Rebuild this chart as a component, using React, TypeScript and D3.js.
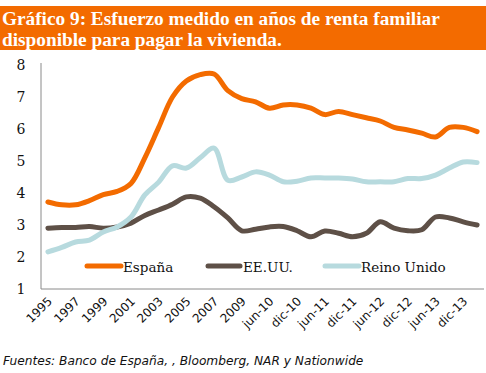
import React from "react";
import * as d3 from "d3";

const width = 486;
const height = 373;
const margin = { top: 65, right: 2, bottom: 84, left: 41 };

// periods: annual 1995-2009, then quarterly mar-10 .. mar-14
const periods = [
  "1995", "1996", "1997", "1998", "1999", "2000", "2001", "2002", "2003", "2004",
  "2005", "2006", "2007", "2008", "2009",
  "mar-10", "jun-10", "sep-10", "dic-10",
  "mar-11", "jun-11", "sep-11", "dic-11",
  "mar-12", "jun-12", "sep-12", "dic-12",
  "mar-13", "jun-13", "sep-13", "dic-13",
  "mar-14"
];

const espana = [
  3.72, 3.63, 3.63, 3.76, 3.95, 4.05, 4.3, 5.1, 6.05, 7.0,
  7.5, 7.7, 7.72, 7.2, 6.95,
  6.85, 6.65, 6.75, 6.75,
  6.65, 6.45, 6.55, 6.45,
  6.35, 6.25, 6.05, 5.97,
  5.87, 5.75, 6.05, 6.05,
  5.92
];

const eeuu = [
  2.9, 2.92, 2.92, 2.95, 2.9, 2.94, 3.06, 3.3, 3.47, 3.65,
  3.88, 3.84, 3.57, 3.22, 2.82,
  2.87, 2.94, 2.95, 2.82,
  2.63, 2.81, 2.74, 2.63,
  2.74, 3.1, 2.9, 2.82,
  2.85, 3.25, 3.22, 3.1,
  3.0
];

const reinoUnido = [
  2.16, 2.3, 2.47, 2.53, 2.78, 2.94, 3.25, 3.94, 4.34, 4.85,
  4.78, 5.1, 5.4, 4.4, 4.5,
  4.66, 4.56, 4.35, 4.37,
  4.47, 4.47, 4.47, 4.44,
  4.35, 4.35, 4.35, 4.45,
  4.45, 4.56, 4.78, 4.97,
  4.95
];

const tickLabels = [
  "1995", "1997", "1999", "2001", "2003", "2005", "2007", "2009",
  "jun-10", "dic-10", "jun-11", "dic-11", "jun-12", "dic-12", "jun-13", "dic-13"
];

const yTicks = [1, 2, 3, 4, 5, 6, 7, 8];

const series = [
  { name: "España", values: espana, color: "#F36B00" },
  { name: "EE.UU.", values: eeuu, color: "#5E5047" },
  { name: "Reino Unido", values: reinoUnido, color: "#B7DADE" }
];

const legendPos = [
  { x1: 87, x2: 121, tx: 123 },
  { x1: 208, x2: 240, tx: 243 },
  { x1: 325, x2: 359, tx: 361 }
];

export default function App() {
  const x = d3
    .scaleBand()
    .domain(periods)
    .range([margin.left, width - margin.right]);
  const y = d3
    .scaleLinear()
    .domain([1, 8])
    .range([height - margin.bottom, margin.top]);

  const cx = (p: string) => (x(p) as number) + x.bandwidth() / 2;

  const line = d3
    .line<number>()
    .x((d, i) => cx(periods[i]))
    .y(d => y(d))
    .curve(d3.curveCatmullRom.alpha(0.5));

  const serif = "'DejaVu Serif', serif";
  const sans = "'DejaVu Sans', sans-serif";
  const y0 = y(1);

  return (
    <div style={{ position: "absolute", left: 0, top: 0 }}>
      <svg width={width} height={height} style={{ display: "block", background: "#fff" }}>
        {/* title banner */}
        <rect x={0} y={6} width={width} height={44} fill="#F36B00" />
        <text x={2} y={25} fill="#fff" fontFamily="'Liberation Serif', serif" fontWeight="bold" fontSize={19.3}>
          Gráfico 9:  Esfuerzo medido en años de renta familiar
        </text>
        <text x={2} y={46} fill="#fff" fontFamily="'Liberation Serif', serif" fontWeight="bold" fontSize={19.3}>
          disponible para pagar la vivienda.
        </text>

        {/* axes */}
        <line x1={margin.left} x2={margin.left} y1={63} y2={y0} stroke="#8a8a8a" strokeWidth={1} />
        <line x1={margin.left} x2={width - margin.right} y1={y0} y2={y0} stroke="#8a8a8a" strokeWidth={1} />

        {yTicks.map(t => (
          <text key={t} x={21} y={y(t) + 5} textAnchor="middle" fontFamily={serif} fontSize={14} fill="#111">
            {t}
          </text>
        ))}

        {tickLabels.map(l => (
          <text
            key={l}
            transform={`translate(${cx(l) + 5},${y0 + 13}) rotate(-45)`}
            textAnchor="end"
            fontFamily={sans}
            fontSize={12}
            fill="#111"
          >
            {l}
          </text>
        ))}

        {/* lines */}
        {series.map(s => (
          <path
            key={s.name}
            d={line(s.values) || ""}
            fill="none"
            stroke={s.color}
            strokeWidth={5}
            strokeLinecap="round"
            strokeLinejoin="round"
          />
        ))}

        {/* legend */}
        {series.map((s, i) => (
          <g key={s.name}>
            <line
              x1={legendPos[i].x1}
              x2={legendPos[i].x2}
              y1={266}
              y2={266}
              stroke={s.color}
              strokeWidth={5}
              strokeLinecap="round"
            />
            <text x={legendPos[i].tx} y={272} fontFamily={serif} fontSize={13.5} fill="#111">
              {s.name}
            </text>
          </g>
        ))}

        <text x={3} y={365} fontFamily={sans} fontStyle="italic" fontSize={12.2} fill="#111">
          Fuentes: Banco de España, , Bloomberg, NAR y Nationwide
        </text>
      </svg>
    </div>
  );
}
